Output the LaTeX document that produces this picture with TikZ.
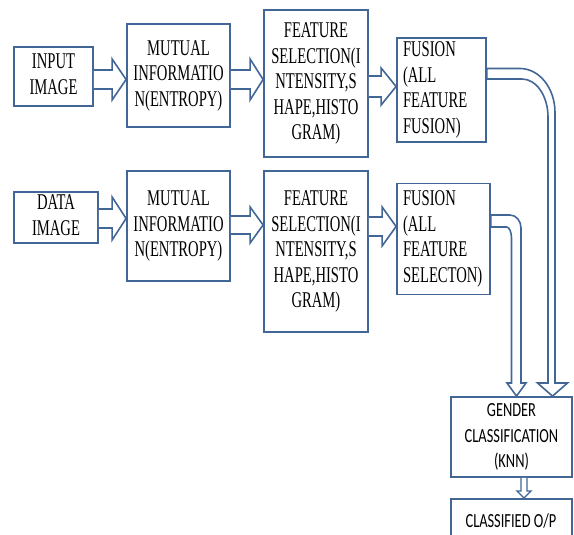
\documentclass[tikz,border=0pt]{standalone}
\usepackage{graphicx}
\usepackage{fontspec}
\newfontfamily\tnr{Liberation Serif}
\newfontfamily\calib{Carlito}
\usetikzlibrary{calc}
\definecolor{edge}{RGB}{66,102,150}
\newcommand\sq[2][c]{\scalebox{0.65}[1]{\begin{tabular}{@{}#1@{}}#2\end{tabular}}}
\newcommand\sqs[1]{\scalebox{0.72}[1]{\begin{tabular}{@{}c@{}}#1\end{tabular}}}
\tikzset{
  box/.style={draw=edge, line width=1.8pt, fill=white, inner sep=0pt, align=center,
    font=\tnr\fontsize{22.5}{25.5}\selectfont},
  sansbox/.style={box, font=\calib\fontsize{20}{25.5}\selectfont},
  barrow/.style={draw=edge, line width=1.6pt, fill=white, line join=miter},
}
% from, to, y centre, shaft half, head half, head length
\newcommand\harrow[6]{%
  \draw[barrow] let \p1=(#1.east), \p2=(#2.west) in
    (\x1,#3-#4) -- (\x2-#6,#3-#4) -- (\x2-#6,#3-#5) -- (\x2,#3)
    -- (\x2-#6,#3+#5) -- (\x2-#6,#3+#4) -- (\x1,#3+#4);}
\begin{document}
\begin{tikzpicture}[x=1pt,y=-1pt]
\useasboundingbox (0,0) rectangle (574,535);
% upper row
\node[box, minimum width=79pt, minimum height=59pt] (in1) at (53.5,76.5) {\sq{INPUT\\IMAGE}};
\node[box, minimum width=103pt, minimum height=103pt] (mu1) at (178.5,75.5) {\sq{MUTUAL\\INFORMATIO\\N(ENTROPY)}};
\node[box, minimum width=104pt, minimum height=147pt] (fe1) at (316,83.5) {\sq{FEATURE\\SELECTION(I\\NTENSITY,S\\HAPE,HISTO\\GRAM)}};
\node[box, minimum width=89pt, minimum height=104pt] (fu1) at (441.5,90) {\makebox[77pt][l]{\sq[l]{FUSION\\(ALL\\FEATURE\\FUSION)}}};
% lower row
\node[box, minimum width=84pt, minimum height=51pt] (in2) at (56,217.5) {\sq{DATA\\IMAGE}};
\node[box, minimum width=103pt, minimum height=110pt] (mu2) at (178.5,226) {\sq{MUTUAL\\INFORMATIO\\N(ENTROPY)}};
\node[box, minimum width=104pt, minimum height=161pt] (fe2) at (316,251.5) {\sq{FEATURE\\SELECTION(I\\NTENSITY,S\\HAPE,HISTO\\GRAM)}};
\node[box, minimum width=93pt, minimum height=111pt] (fu2) at (443.5,239) {\makebox[81pt][l]{\sq[l]{FUSION\\(ALL\\FEATURE\\SELECTON)}}};
% classification
\node[sansbox, minimum width=121pt, minimum height=80pt] (gen) at (511.5,437) {\sqs{GENDER\\CLASSIFICATION\\(KNN)}};
\node[sansbox, minimum width=121pt, minimum height=60pt, anchor=north] (cls) at (511.5,498) {};
\node[font=\calib\fontsize{20}{24}\selectfont, anchor=base, inner sep=0pt] (clst) at (511,527) {\scalebox{0.72}[1]{CLASSIFIED O/P}};
% horizontal block arrows
\harrow{in1}{mu1}{79.5}{9.5}{20.5}{14}
\harrow{mu1}{fe1}{79.5}{9.5}{20.5}{13}
\harrow{fe1}{fu1}{86.5}{10.5}{18.5}{15}
\harrow{in2}{mu2}{218.5}{9.5}{21.5}{14}
\harrow{mu2}{fe2}{225}{9}{18}{13}
\harrow{fe2}{fu2}{226.5}{9.5}{19.5}{14}
% curved pipe from upper fusion
\draw[barrow] let \p1=(fu1.east), \p2=(gen.north) in
  (\x1,68.5) -- (520,68.5) arc[start angle=-90, end angle=0, x radius=35, y radius=44]
  -- (555,383) -- (567.5,383) -- (552.5,\y2) -- (537.5,383) -- (548,383)
  -- (548,117) arc[start angle=0, end angle=-90, x radius=26, y radius=38]
  -- (\x1,79) -- cycle;
% curved pipe from lower fusion
\draw[barrow] let \p1=(fu2.east), \p2=(gen.north) in
  (\x1,215) -- (510,215) arc[start angle=-90, end angle=0, x radius=11, y radius=13]
  -- (521,383) -- (526,383) -- (516.5,\y2) -- (507,383) -- (511.5,383)
  -- (511.5,238) arc[start angle=0, end angle=-90, x radius=5, y radius=11]
  -- (\x1,227) -- cycle;
% small arrow gen -> cls
\draw[barrow, line width=1.3pt] let \p1=(gen.south), \p2=(cls.north) in
  (521,\y1) -- (521,491) -- (517,491) -- (524,\y2) -- (531,491) -- (527,491) -- (527,\y1);
\end{tikzpicture}
\end{document}
